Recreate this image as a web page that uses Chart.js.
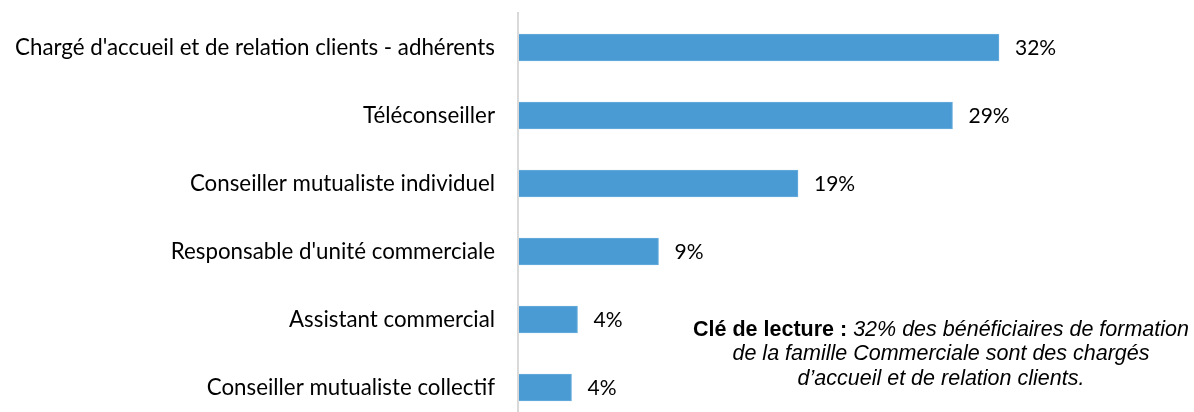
<!DOCTYPE html>
<html>
<head>
<meta charset="utf-8">
<script src="https://cdn.jsdelivr.net/npm/chart.js@4/dist/chart.umd.min.js"></script>
<style>
	html, body { margin: 0; padding: 0; background: #fff; }
	#wrapper { width: 1194px; height: 412px; position: relative; }
</style>
</head>
<body>
<div id="wrapper"><canvas id="hb-famille"></canvas></div>
<script>
const lsJob = [
	"Chargé d'accueil et de relation clients - adhérents",
	"Téléconseiller",
	"Conseiller mutualiste individuel",
	"Responsable d'unité commerciale",
	"Assistant commercial",
	"Conseiller mutualiste collectif",
];
const shareValues = [32.0, 28.9, 18.6, 9.3, 3.9, 3.5];
const noteBold = "Clé de lecture : ";
const noteLines = [
	"32% des bénéficiaires de formation",
	"de la famille Commerciale sont des chargés",
	"d\u2019accueil et de relation clients.",
];

const labelFont = "Lato, 'Open Sans', sans-serif";
const noteFont = "'Liberation Sans', Arial, sans-serif";

// value labels + left axis line + reading note
const extraDraw = {
	id: "extraDraw",
	afterDatasetsDraw(chart) {
		let ctx = chart.ctx;
		let xScale = chart.scales.x;
		let meta = chart.getDatasetMeta(0);

		ctx.save();
		ctx.strokeStyle = "#d9d9d9";
		ctx.lineWidth = 2;
		ctx.beginPath();
		let x0 = xScale.getPixelForValue(0) - 1;
		ctx.moveTo(x0, 12);
		ctx.lineTo(x0, chart.height);
		ctx.stroke();

		ctx.fillStyle = "#000";
		ctx.font = "21px " + labelFont;
		ctx.textAlign = "left";
		ctx.textBaseline = "middle";
		meta.data.forEach((bar, idx) => {
			ctx.fillText(Math.round(shareValues[idx]) + "%", bar.x + 16, bar.y + 1);
		});

		// reading note
		let cx = 941;
		let y = 330;
		let fs = "21.5px ";
		ctx.font = "bold " + fs + noteFont;
		let wBold = ctx.measureText(noteBold).width;
		ctx.font = "italic " + fs + noteFont;
		let wIt = ctx.measureText(noteLines[0]).width;
		let startX = cx - (wBold + wIt) / 2;
		ctx.textAlign = "left";
		ctx.font = "bold " + fs + noteFont;
		ctx.fillText(noteBold, startX, y);
		ctx.font = "italic " + fs + noteFont;
		ctx.fillText(noteLines[0], startX + wBold, y);
		ctx.textAlign = "center";
		ctx.fillText(noteLines[1], cx, y + 24.5);
		ctx.fillText(noteLines[2], cx, y + 49);
		ctx.restore();
	},
};

new Chart(document.getElementById("hb-famille").getContext("2d"), {
	type: "bar",
	data: {
		labels: lsJob,
		datasets: [
			{
				data: shareValues,
				backgroundColor: "#4A9BD3",
				borderColor: "#6aaedd",
				borderWidth: 1,
				borderSkipped: "left",
				barThickness: 27,
				clip: false,
			},
		],
	},
	options: {
		indexAxis: "y",
		responsive: true,
		maintainAspectRatio: false,
		animation: false,
		layout: { padding: { top: 47.5, bottom: 24.5, left: 0, right: 0 } },
		scales: {
			x: {
				min: 0,
				max: 45,
				display: false,
				grid: { display: false },
			},
			y: {
				offset: false,
				grid: { display: false, drawTicks: false },
				border: { display: false },
				ticks: {
					color: "#000",
					padding: 24,
					font: { family: labelFont, size: 22.3 },
				},
				afterFit(scale) {
					scale.width = 519;
					scale.paddingTop = 0;
					scale.paddingBottom = 0;
				},
			},
		},
		plugins: {
			legend: { display: false },
			tooltip: { enabled: false },
		},
	},
	plugins: [extraDraw],
});
</script>
</body>
</html>
